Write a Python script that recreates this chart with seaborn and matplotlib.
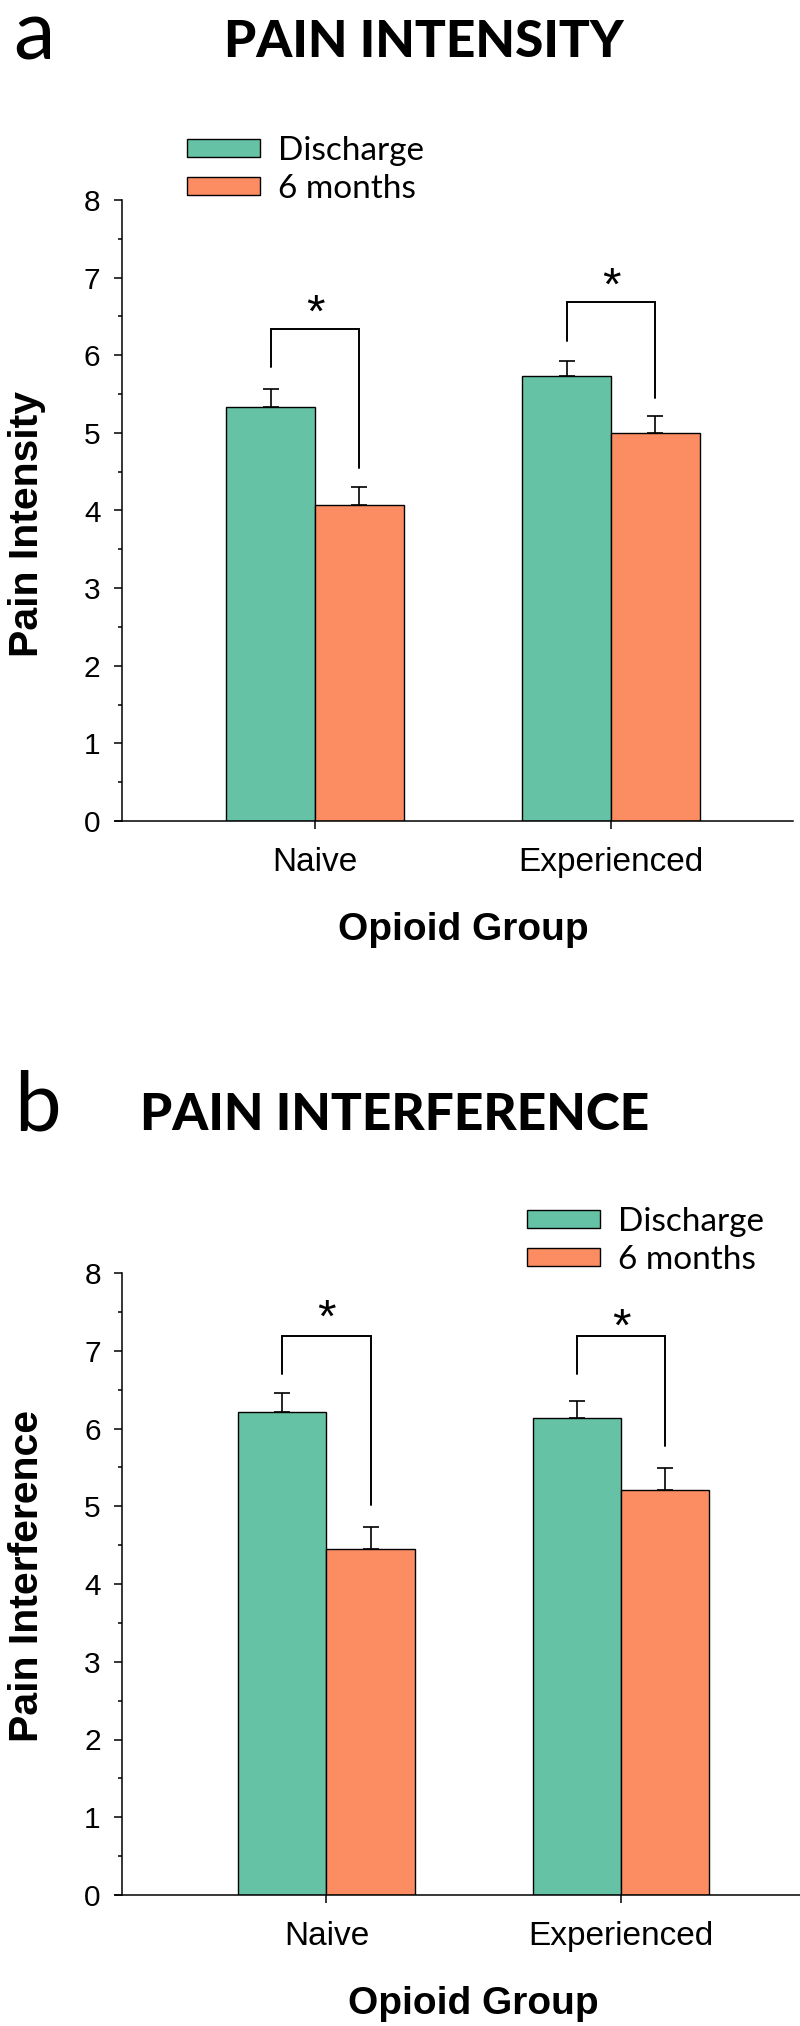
import numpy as np
import pandas as pd
import matplotlib
matplotlib.use("Agg")
import matplotlib.pyplot as plt
import matplotlib.transforms as mtransforms
from matplotlib.patches import Patch
from matplotlib.ticker import MultipleLocator
import seaborn as sns

# ---------------- data ----------------
groups = ["Naive", "Experienced"]
timepoints = ["Discharge", "6 months"]

intensity_discharge = [5.33, 5.73]
intensity_6mo = [4.07, 5.00]
intensity_err_discharge = [0.23, 0.19]
intensity_err_6mo = [0.23, 0.22]

interference_discharge = [6.21, 6.14]
interference_6mo = [4.45, 5.21]
interference_err_discharge = [0.25, 0.22]
interference_err_6mo = [0.28, 0.28]

# significance brackets: top, left-leg bottom, right-leg bottom, star centre
intensity_bracket_top = [6.34, 6.68]
intensity_bracket_left = [5.85, 6.19]
intensity_bracket_right = [4.55, 5.45]
intensity_star = [6.74, 7.09]

interference_bracket_top = [7.19, 7.19]
interference_bracket_left = [6.70, 6.70]
interference_bracket_right = [5.01, 5.77]
interference_star = [7.62, 7.50]

panel_letters = ["a", "b"]
panel_titles = ["PAIN INTENSITY", "PAIN INTERFERENCE"]
y_labels = ["Pain Intensity", "Pain Interference"]
x_label = "Opioid Group"

colors = sns.color_palette("Set2", 2)

# ---------------- style ----------------
sns.set_style("ticks")
plt.rcParams["font.family"] = ["Liberation Sans", "DejaVu Sans"]
plt.rcParams["axes.linewidth"] = 1.1
for key in ["text.color", "axes.labelcolor", "xtick.color", "ytick.color",
            "axes.edgecolor"]:
    plt.rcParams[key] = "black"

W, H = 800, 2026
fig = plt.figure(figsize=(W / 100, H / 100), dpi=100)


def rect(l, r, t, b):
    return [l / W, 1 - b / H, (r - l) / W, (b - t) / H]


def draw_panel(ax, disc, six, err_d, err_s, btop, bleft, bright, star,
               ylabel, ylab_y, xlim, spine_x, xlab_x, legend_xy):
    df = pd.DataFrame({
        "group": groups * 2,
        "time": [timepoints[0]] * 2 + [timepoints[1]] * 2,
        "value": list(disc) + list(six),
    })
    sns.barplot(data=df, x="group", y="value", hue="time", order=groups,
                hue_order=timepoints, palette=colors, width=0.6,
                edgecolor="black", linewidth=1.0, errorbar=None,
                saturation=1, legend=False, ax=ax)

    centers = []
    for cont, errs in zip(ax.containers, [err_d, err_s]):
        xs = [p.get_x() + p.get_width() / 2 for p in cont.patches]
        ys = [p.get_height() for p in cont.patches]
        centers.append(xs)
        ax.errorbar(xs, ys, yerr=[np.zeros(len(errs)), errs], fmt="none",
                    ecolor="black", elinewidth=1.2, capsize=6, capthick=1.2,
                    zorder=1)

    star_tr = mtransforms.offset_copy(ax.transData, fig=fig, x=0, y=-29,
                                      units="dots")
    for i in range(len(groups)):
        xl, xr = centers[0][i], centers[1][i]
        ax.plot([xl, xl, xr, xr], [bleft[i], btop[i], btop[i], bright[i]],
                color="black", lw=1.4, solid_joinstyle="miter")
        ax.text((xl + xr) / 2, star[i], "*", ha="center", va="baseline",
                fontsize=34, transform=star_tr)

    ax.set_ylim(0, 8)
    ax.set_xlim(*xlim)
    ax.yaxis.set_major_locator(MultipleLocator(1))
    ax.yaxis.set_minor_locator(MultipleLocator(0.5))
    ax.spines["left"].set_position(("data", spine_x))
    ax.spines["left"].set_bounds(0, 8)
    ax.spines["top"].set_visible(False)
    ax.spines["right"].set_visible(False)
    ax.tick_params(axis="y", which="major", length=5.5, width=1.1,
                   labelsize=21.5, pad=10, direction="out")
    ax.tick_params(axis="y", which="minor", length=3, width=1.1,
                   direction="out")
    ax.tick_params(axis="x", which="major", length=6, width=1.1,
                   labelsize=24, pad=13, direction="out")
    ax.set_ylabel(ylabel, fontsize=29.5, fontweight="bold", va="center")
    ax.yaxis.set_label_coords((27 - 115) / (W * ax.get_position().width),
                              ylab_y)
    ax.set_xlabel(x_label, fontsize=28, fontweight="bold", va="center")
    ax.xaxis.set_label_coords(xlab_x, -109 / (H * ax.get_position().height))

    handles = [Patch(facecolor=c, edgecolor="black", linewidth=1.0)
               for c in colors]
    fig.legend(handles, timepoints, loc="upper left",
               bbox_to_anchor=(legend_xy[0] / W, 1 - legend_xy[1] / H),
               frameon=False, prop={"family": "Lato", "size": 24},
               handlelength=2.19, handleheight=0.45, handletextpad=0.54,
               labelspacing=0.24, borderpad=0, borderaxespad=0)


ax_a = fig.add_axes(rect(115, 793, 200, 821))
draw_panel(ax_a, intensity_discharge, intensity_6mo, intensity_err_discharge,
           intensity_err_6mo, intensity_bracket_top, intensity_bracket_left,
           intensity_bracket_right, intensity_star, y_labels[0], 0.478,
           (-0.676, 1.615), -0.652, (463 - 115) / 678, (187, 136))

ax_b = fig.add_axes(rect(115, 800, 1273, 1895))
draw_panel(ax_b, interference_discharge, interference_6mo,
           interference_err_discharge, interference_err_6mo,
           interference_bracket_top, interference_bracket_left,
           interference_bracket_right, interference_star, y_labels[1], 0.513,
           (-0.718, 1.608), -0.693, (473 - 115) / 685, (527, 1207))

# panel letters and titles
fig.text(13 / W, 1 - 60 / H, panel_letters[0], fontsize=60, family="Lato",
         ha="left", va="baseline", color="black")
fig.text(424 / W, 1 - 57 / H, panel_titles[0], fontsize=37, family="Lato",
         fontweight="black", ha="center", va="baseline", color="black")
fig.text(14 / W, 1 - 1130 / H, panel_letters[1], fontsize=60, family="Lato",
         ha="left", va="baseline", color="black")
fig.text(395 / W, 1 - 1130 / H, panel_titles[1], fontsize=37, family="Lato",
         fontweight="black", ha="center", va="baseline", color="black")

fig.savefig("out.png", dpi=100)
